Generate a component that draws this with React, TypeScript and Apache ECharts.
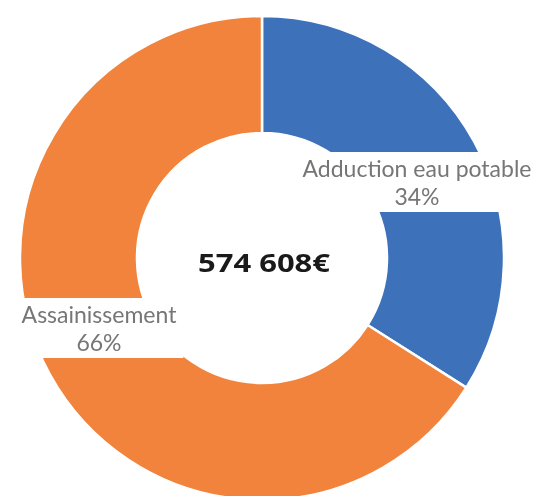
import React, { useEffect, useRef } from "react";
import * as echarts from "echarts";

const categories = ["Adduction eau potable", "Assainissement"];
const values = [195367, 379241];
const colors = ["#3D72BA", "#F2833C"];
const totalLabel = "574 608€";
const labelPositions = [
  [417, 182],
  [99, 328],
];

export default function App() {
  const ref = useRef<HTMLDivElement>(null);
  useEffect(() => {
    if (!ref.current) return;
    const chart = echarts.init(ref.current, null, { renderer: "svg" });
    chart.setOption({
      animation: false,
      series: [
        {
          type: "pie",
          center: [262, 258],
          radius: [125, 242],
          startAngle: 90,
          clockwise: true,
          avoidLabelOverlap: false,
          itemStyle: { borderColor: "#ffffff", borderWidth: 2.5 },
          label: {
            show: true,
            position: "inside",
            formatter: (p: any) => `${p.name}\n${Math.round(p.percent)}%`,
            color: "#767676",
            fontFamily: "Lato",
            fontSize: 23,
            lineHeight: 28,
            align: "center",
            backgroundColor: "#ffffff",
            padding: [2, 7],
          },
          labelLine: { show: false },
          labelLayout: (params: any) => {
            const pos = labelPositions[params.dataIndex];
            return { x: pos[0], y: pos[1] };
          },
          emphasis: { disabled: true },
          data: categories.map((c, i) => ({
            name: c,
            value: values[i],
            itemStyle: { color: colors[i] },
          })),
        },
      ],
      graphic: [
        {
          type: "text",
          x: 264,
          y: 262,
          scaleX: 1.24,
          style: {
            text: totalLabel,
            fill: "#1a1a1a",
            fontFamily: "Open Sans",
            fontWeight: "bold",
            fontSize: 25,
            textAlign: "center",
            textVerticalAlign: "middle",
          },
        },
      ],
    });
    return () => chart.dispose();
  }, []);
  return (
    <div
      ref={ref}
      style={{ position: "fixed", left: 0, top: 0, width: 544, height: 496 }}
    />
  );
}
